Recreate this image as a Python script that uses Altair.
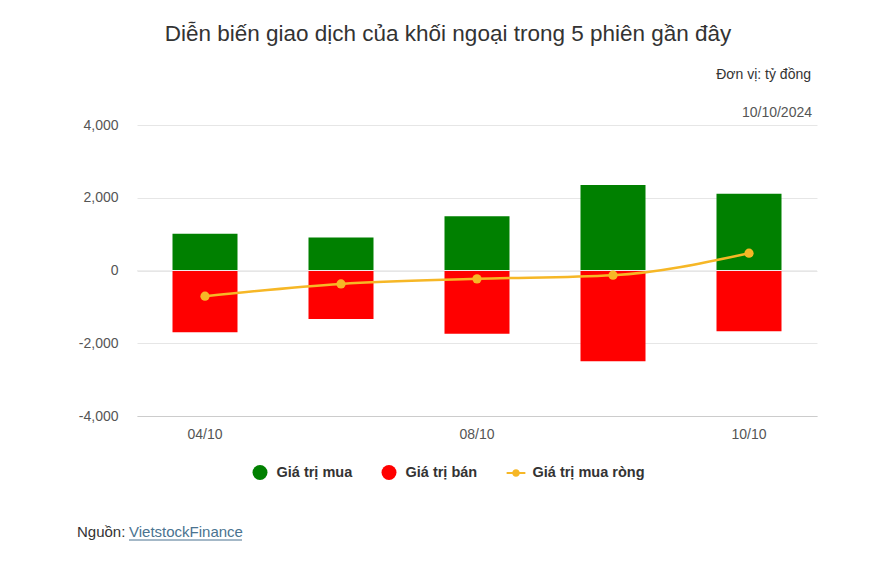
import altair as alt
import pandas as pd

dates = ["04/10", "07/10", "08/10", "09/10", "10/10"]
buy = [1010, 910, 1490, 2350, 2110]
sell = [-1700, -1330, -1740, -2495, -1670]
net = [-705, -370, -230, -130, 475]

S_BUY = "Giá trị mua"
S_SELL = "Giá trị bán"
S_NET = "Giá trị mua ròng"
series = [S_BUY, S_SELL, S_NET]
colors = ["#008000", "#ff0000", "#f6b726"]
line_symbol = ("M-1.25,-0.14H-0.45V0.14H-1.25Z M0.45,-0.14H1.25V0.14H0.45Z "
               "M-0.5,0A0.5,0.5 0 1 1 0.5,0A0.5,0.5 0 1 1 -0.5,0Z")
shapes = ["circle", "circle", line_symbol]

rows = []
for d, b, s, n in zip(dates, buy, sell, net):
    rows.append({"date": d, "series": S_BUY, "value": b})
    rows.append({"date": d, "series": S_SELL, "value": s})
    rows.append({"date": d, "series": S_NET, "value": n})
df = pd.DataFrame(rows)

FONT = "Liberation Sans"

x_enc = alt.X(
    "date:N", sort=dates, title=None,
    scale=alt.Scale(paddingInner=0, paddingOuter=0),
    axis=alt.Axis(
        labelExpr="(datum.label == '07/10' || datum.label == '09/10') ? '' : datum.label",
        labelAngle=0, ticks=False, tickSize=0, labelPadding=11, labelFontSize=14,
        labelColor="#555555", domain=True, domainColor="#cccccc", grid=False,
        labelFont=FONT,
    ),
)
y_enc = alt.Y(
    "value:Q", title=None,
    scale=alt.Scale(domain=[-4000, 4000], nice=False),
    axis=alt.Axis(
        values=[-4000, -2000, 0, 2000, 4000],
        labelExpr="datum.value < 0 ? '-' + format(abs(datum.value), ',.0f') : format(datum.value, ',.0f')",
        ticks=False, tickSize=0,
        domain=False, labelPadding=19, labelFontSize=14, labelColor="#555555",
        gridColor="#e6e6e6", labelFont=FONT,
    ),
)
leg = dict(
    orient="none", legendX=115.5, legendY=340, direction="horizontal",
    labelFontSize=14.5, labelFontWeight="bold", labelColor="#333333",
    labelFont=FONT, symbolSize=225, labelOffset=9, columnPadding=29,
    padding=0, symbolStrokeWidth=0,
)
color_enc = alt.Color(
    "series:N", title=None,
    scale=alt.Scale(domain=series, range=colors),
    legend=alt.Legend(**leg),
)
shape_enc = alt.Shape(
    "series:N", title=None,
    scale=alt.Scale(domain=series, range=shapes),
    legend=alt.Legend(**leg),
)

base = alt.Chart(df)

bars = base.transform_filter(
    alt.FieldOneOfPredicate(field="series", oneOf=[S_BUY, S_SELL])
).mark_bar(size=65).encode(x=x_enc, y=y_enc, color=color_enc)

zero = base.mark_rule(color="#eeeeee", strokeWidth=1).encode(y=alt.datum(0))

net_base = base.transform_filter(alt.datum.series == S_NET)
line = net_base.mark_line(interpolate="monotone", strokeWidth=2.5, color=colors[2]).encode(
    x=x_enc, y=y_enc)
pts = net_base.mark_point(filled=True, size=85, opacity=1, color=colors[2]).encode(
    x=x_enc, y=y_enc)

legend_layer = base.transform_filter("false").mark_point(filled=True, opacity=1).encode(
    x=x_enc, y=y_enc, color=color_enc, shape=shape_enc)

def txt(text, x, y, size, color, align="left", baseline="middle", weight="normal"):
    return alt.Chart(pd.DataFrame({"t": [text]})).mark_text(
        align=align, baseline=baseline, fontSize=size, color=color,
        font=FONT, fontWeight=weight,
    ).encode(text="t:N", x=alt.value(x), y=alt.value(y))

title = txt("Diễn biến giao dịch của khối ngoại trong 5 phiên gần đây", 311, -84, 22.5,
            "#333333", align="center", baseline="alphabetic")
unit = txt("Đơn vị: tỷ đồng", 674, -50, 14, "#333333", align="right")
date_lbl = txt("10/10/2024", 675, -12, 14, "#555555", align="right")
src1 = txt("Nguồn:", -60, 407, 15, "#333333")
src2 = txt("VietstockFinance", -8, 407, 15, "#4a7390")
underline = alt.Chart(pd.DataFrame({"a": [0]})).mark_rule(color="#4a7390", strokeWidth=1).encode(
    x=alt.value(-8), x2=alt.value(105), y=alt.value(415))

chart = alt.layer(
    bars, zero, line, pts, legend_layer, title, unit, date_lbl, src1, src2, underline
).properties(
    width=680, height=291,
    autosize=alt.AutoSizeParams(type="none"),
    padding={"left": 129, "top": 117, "right": 44, "bottom": 130},
).configure(font=FONT, background="white").configure_view(strokeWidth=0, stroke="transparent")

chart.save("out.html", embed_options={"renderer": "svg", "actions": False})
